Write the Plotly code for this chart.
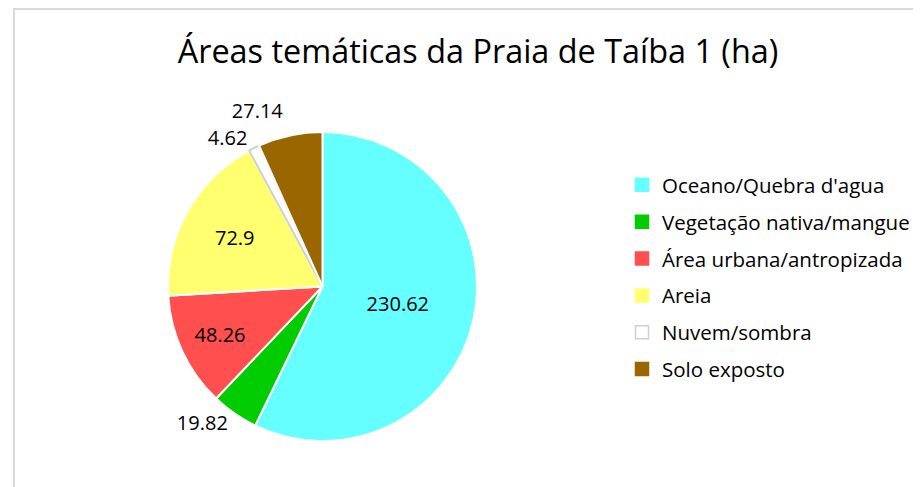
import plotly.graph_objects as go

# Figure sits inside the page body's default 8px margin
OFF = 8
W, H = 921, 487 - OFF


def fx(px):
    return (px - OFF) / W


def fy(py):
    return 1 - (py - OFF) / H


labels = ["Oceano/Quebra d'agua", "Vegetação nativa/mangue", "Área urbana/antropizada",
          "Areia", "Nuvem/sombra", "Solo exposto"]
values = [230.62, 19.82, 48.26, 72.9, 4.62, 27.14]
value_text = ["230.62", "19.82", "48.26", "72.9", "4.62", "27.14"]
colors = ["#66FFFF", "#00CC00", "#FF4F4F", "#FFFF70", "#FFFFFF", "#996600"]
line_colors = ["#FFFFFF", "#FFFFFF", "#FFFFFF", "#FFFFFF", "#D0D0D0", "#FFFFFF"]
positions = ["inside", "outside", "inside", "inside", "outside", "outside"]

FONT = "Open Sans"
LEG_SIZE = 20.5

fig = go.Figure()
fig.add_trace(go.Pie(
    labels=labels, values=values, text=value_text, textinfo="text",
    textposition=positions, sort=False, direction="clockwise", rotation=0,
    marker=dict(colors=colors, line=dict(color=line_colors, width=2)),
    textfont=dict(family=FONT, size=20, color="#000000"),
    insidetextorientation="horizontal",
    domain=dict(x=[fx(168), fx(477)], y=[fy(442), fy(131)]),
    hoverinfo="label+value",
    showlegend=False,
))

# legend entries (one per category) so their vertical spacing can match
for lab, col, lc in zip(labels, colors, line_colors):
    fig.add_trace(go.Scatter(
        x=[None], y=[None], mode="markers", name=lab, legendgroup=lab,
        marker=dict(symbol="square", size=13, color=col,
                    line=dict(color=("#D0D0D0" if lc != "#FFFFFF" else col), width=1.5)),
        hoverinfo="skip",
    ))

fig.update_layout(
    width=W, height=H,
    margin=dict(l=0, r=0, t=0, b=0),
    paper_bgcolor="white", plot_bgcolor="white",
    font=dict(family=FONT, color="#000000"),
    xaxis=dict(visible=False), yaxis=dict(visible=False),
    title=dict(text="Áreas temáticas da Praia de Taíba 1 (ha)", x=fx(478), xanchor="center",
               y=fy(52), yanchor="middle", font=dict(family=FONT, size=32.4, color="#000000")),
    legend=dict(x=fx(622), y=fy(165), xanchor="left", yanchor="top",
                font=dict(family=FONT, size=LEG_SIZE, color="#000000"), itemwidth=30,
                tracegroupgap=7.2, bgcolor="rgba(0,0,0,0)"),
    shapes=[dict(type="rect", xref="paper", yref="paper", x0=fx(14), y0=-0.1, x1=1.1,
                 y1=fy(9), line=dict(color="#D9D9D9", width=2), fillcolor="rgba(0,0,0,0)")],
)

fig.write_html(
    "out.html",
    post_script="document.querySelectorAll('path.textline').forEach(function(e){e.style.display='none';});",
)
